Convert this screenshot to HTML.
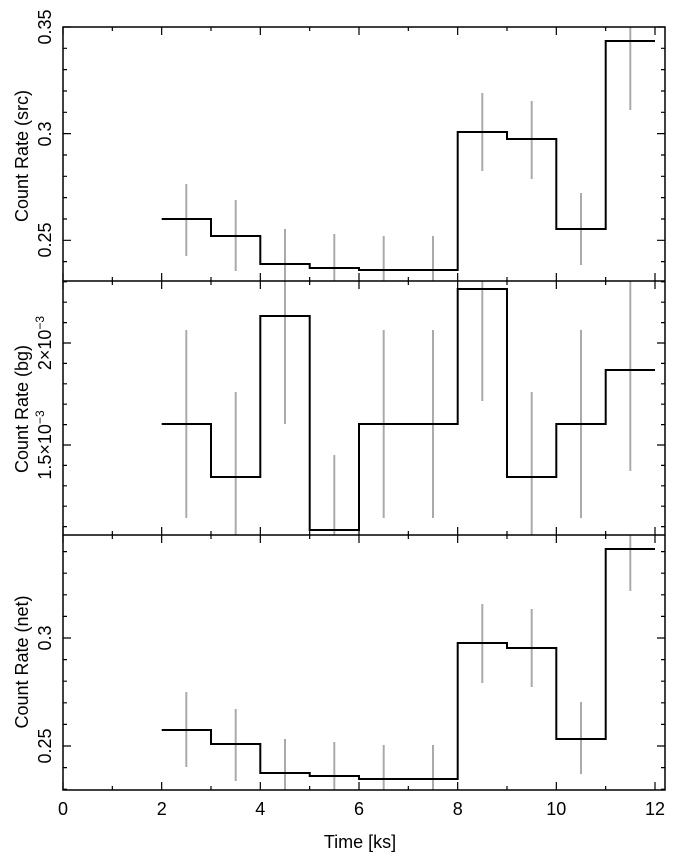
<!DOCTYPE html>
<html><head><meta charset="utf-8"><style>
html,body{margin:0;padding:0;background:#fff;}
svg{display:block;font-family:"Liberation Sans",sans-serif;}
</style></head><body>
<svg id="s" width="676" height="861" viewBox="0 0 676 861">
<g id="ticks" stroke="#000" stroke-width="1.2"></g>
<g fill="none" stroke="#aaa" stroke-width="2">
<path d="M186.3 184V256M235.7 200V271M285 229V281M334.3 234V281M383.7 236V281M433 236V281M482.3 93V171M531.7 101V179M581 193V265M630.3 27V110"/>
<path d="M186.3 330V518M235.7 392V535M285 281V424M334.3 455V535M383.7 330V518M433 330V518M482.3 281V401M531.7 392V535M581 330V518M630.3 281V471"/>
<path d="M186.3 692V767M235.7 709V781M285 739V790M334.3 742V790M383.7 745V790M433 745V790M482.3 604V683M531.7 609V687M581 702V774M630.3 535V591"/>
</g>
<g fill="none" stroke="#000" stroke-width="2">
<path d="M161.7 219H211V236H260.3V264H309.7V268H359V270H457.7V132H507V139H556.3V229H605.7V41H655"/>
<path d="M161.7 424H211V477H260.3V316H309.7V530H359V424H457.7V289H507V477H556.3V424H605.7V370H655"/>
<path d="M161.7 730H211V744H260.3V773H309.7V776H359V779H457.7V643H507V648H556.3V739H605.7V549H655"/>
</g>
<g fill="none" stroke="#000" stroke-width="1.5">
<rect x="63" y="27" width="602" height="763"/>
<path d="M63 281H665M63 535H665"/>
</g>
<g font-size="18" fill="#000" text-anchor="middle">
<text x="63" y="815">0</text><text x="161.7" y="815">2</text><text x="260.3" y="815">4</text><text x="359" y="815">6</text><text x="457.7" y="815">8</text><text x="556.3" y="815">10</text><text x="655" y="815">12</text>
<text x="360" y="848">Time [ks]</text>
<text transform="translate(51,27) rotate(-90)">0.35</text>
<text transform="translate(51,134) rotate(-90)">0.3</text>
<text transform="translate(51,240) rotate(-90)">0.25</text>
<text transform="translate(51,343) rotate(-90)">2×10<tspan font-size="12" dy="-7">−3</tspan></text>
<text transform="translate(51,445) rotate(-90)">1.5×10<tspan font-size="12" dy="-7">−3</tspan></text>
<text transform="translate(51,638) rotate(-90)">0.3</text>
<text transform="translate(51,746) rotate(-90)">0.25</text>
<text transform="translate(28,156) rotate(-90)">Count Rate (src)</text>
<text transform="translate(28,409) rotate(-90)">Count Rate (bg)</text>
<text transform="translate(28,662) rotate(-90)">Count Rate (net)</text>
</g>
</svg>
<script>
var g=document.getElementById('ticks'),d='';
function X(t){return 63+49.333*t;}
[[27,281],[281,535],[535,790]].forEach(function(p){
 for(var t=0;t<=12;t++){var L=t%2?4:8,x=X(t);d+='M'+x+' '+p[0]+'v'+L+'M'+x+' '+p[1]+'v-'+L;}
});
function yt(y0,step,n,maj,top,bot){for(var i=0;i<n;i++){var y=y0+i*step;if(y<top-0.5||y>bot+0.5)continue;var L=(maj(i))?8:4;d+='M63 '+y+'h'+L+'M665 '+y+'h-'+L;}}
yt(27,21.33,13,function(i){return i%5==0},27,281);
yt(343-20.4*3,20.4,13,function(i){return (i-3)%5==0},281,535);
yt(638-21.6*5,21.6,13,function(i){return i%5==0},535,790);
var p=document.createElementNS('http://www.w3.org/2000/svg','path');p.setAttribute('d',d);g.appendChild(p);
</script>
</body></html>
